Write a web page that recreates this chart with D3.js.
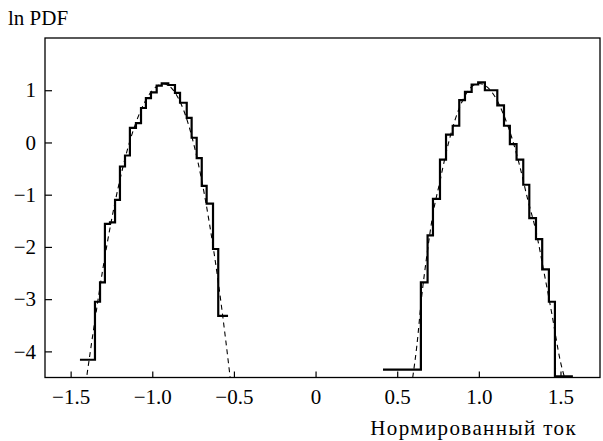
<!DOCTYPE html>
<html>
<head>
<meta charset="utf-8">
<script src="https://cdn.jsdelivr.net/npm/d3@7"></script>
<style>
  body { margin: 0; background: #fff; }
  svg text { font-family: "Liberation Serif", "Times New Roman", "DejaVu Serif", serif; fill: #000; }
</style>
</head>
<body>
<svg id="chart" width="603" height="441"></svg>
<script>
// ---- data ----
const xTicks = [-1.5, -1.0, -0.5, 0, 0.5, 1.0, 1.5];
const xTickLabels = ["\u22121.5", "\u22121.0", "\u22120.5", "0", "0.5", "1.0", "1.5"];
const yTicks = [1, 0, -1, -2, -3, -4];
const yTickLabels = ["1", "0", "\u22121", "\u22122", "\u22123", "\u22124"];

// left peak histogram: bin edges and ln PDF levels
const leftEdges = [-1.443, -1.351, -1.320, -1.290, -1.259, -1.228, -1.198, -1.167, -1.137, -1.100,
  -1.069, -1.039, -1.008, -0.973, -0.942, -0.902, -0.861, -0.830, -0.789, -0.759,
  -0.728, -0.697, -0.667, -0.628, -0.596, -0.536];
const leftLevels = [-4.16, -3.05, -2.68, -1.56, -1.53, -1.10, -0.46, -0.25, 0.28, 0.37,
  0.66, 0.85, 0.96, 1.09, 1.13, 1.10, 0.95, 0.76, 0.47, 0.09,
  -0.30, -0.83, -1.17, -2.04, -3.32];

// right peak histogram
const rightEdges = [0.413, 0.645, 0.686, 0.719, 0.762, 0.799, 0.840, 0.880, 0.915, 0.956,
  0.996, 1.037, 1.113, 1.154, 1.190, 1.231, 1.272, 1.309, 1.350, 1.388,
  1.429, 1.466, 1.576];
const rightLevels = [-4.35, -2.68, -1.78, -1.08, -0.33, 0.15, 0.32, 0.81, 0.97, 1.11,
  1.15, 1.00, 0.71, 0.32, -0.03, -0.33, -0.81, -1.45, -1.85, -2.43,
  -3.05, -4.48];

// dashed fits
const leftFitX = [-1.40, -1.35, -1.30, -1.25, -1.20, -1.15, -1.10, -1.05, -1.00, -0.95,
  -0.93, -0.90, -0.85, -0.80, -0.75, -0.70, -0.65, -0.60, -0.55, -0.523];
const leftFitY = [-4.45, -3.38, -2.37, -1.49, -0.74, -0.11, 0.38, 0.75, 0.995, 1.11,
  1.12, 1.09, 0.90, 0.55, 0.02, -0.68, -1.55, -2.58, -3.79, -4.5];
const rightFitX = [0.595, 0.62, 0.65, 0.68, 0.72, 0.76, 0.80, 0.85, 0.90, 0.95,
  1.00, 1.05, 1.10, 1.15, 1.20, 1.25, 1.30, 1.35, 1.40, 1.45, 1.50, 1.525];
const rightFitY = [-4.5, -3.9, -2.95, -2.2, -1.35, -0.77, -0.19, 0.39, 0.80, 1.05,
  1.13, 1.065, 0.87, 0.545, 0.11, -0.445, -1.10, -1.70, -2.50, -3.33, -4.2, -4.5];

// ---- layout ----
const plot = { left: 45, right: 600, top: 38, bottom: 377.5 };
const fontSize = 21;
const svg = d3.select("#chart");

const x = d3.scaleLinear().domain([-1.657, 1.742]).range([plot.left, plot.right]);
const y = d3.scaleLinear().domain([-4.5, 2]).range([plot.bottom, plot.top]);

// clip so curves stop at the frame
svg.append("defs").append("clipPath").attr("id", "clip")
  .append("rect")
  .attr("x", plot.left).attr("y", plot.top)
  .attr("width", plot.right - plot.left).attr("height", plot.bottom - plot.top);

// axes (ticks point inward)
const xAxis = d3.axisBottom(x)
  .tickValues(xTicks)
  .tickFormat((d, i) => xTickLabels[i])
  .tickSizeInner(-6).tickSizeOuter(0).tickPadding(12);
const yAxis = d3.axisLeft(y)
  .tickValues(yTicks)
  .tickFormat((d, i) => yTickLabels[i])
  .tickSizeInner(-7).tickSizeOuter(0).tickPadding(9);

const gx = svg.append("g").attr("transform", `translate(0,${plot.bottom})`).call(xAxis);
const gy = svg.append("g").attr("transform", `translate(${plot.left},0)`).call(yAxis);
[gx, gy].forEach(g => {
  g.attr("font-family", null).attr("font-size", null);
  g.select(".domain").remove();
  g.selectAll(".tick line").attr("stroke", "#000").attr("stroke-width", 1.2);
  g.selectAll(".tick text").style("font-size", fontSize + "px");
});

// frame
svg.append("rect")
  .attr("x", plot.left).attr("y", plot.top)
  .attr("width", plot.right - plot.left).attr("height", plot.bottom - plot.top)
  .attr("fill", "none").attr("stroke", "#000").attr("stroke-width", 1.3);

// histograms as step lines
const stepPts = (edges, levels) => {
  const pts = levels.map((v, i) => [edges[i], v]);
  pts.push([edges[edges.length - 1], levels[levels.length - 1]]);
  return pts;
};
const stepLine = d3.line().x(d => x(d[0])).y(d => y(d[1])).curve(d3.curveStepAfter);
const marks = svg.append("g").attr("clip-path", "url(#clip)");

[[leftEdges, leftLevels], [rightEdges, rightLevels]].forEach(([e, l]) => {
  marks.append("path")
    .attr("d", stepLine(stepPts(e, l)))
    .attr("fill", "none").attr("stroke", "#000")
    .attr("stroke-width", 2.2).attr("stroke-linejoin", "miter");
});

// dashed fits
const fitLine = d3.line().x(d => x(d[0])).y(d => y(d[1])).curve(d3.curveMonotoneX);
[[leftFitX, leftFitY], [rightFitX, rightFitY]].forEach(([fx, fy]) => {
  marks.append("path")
    .attr("d", fitLine(fx.map((v, i) => [v, fy[i]])))
    .attr("fill", "none").attr("stroke", "#000")
    .attr("stroke-width", 1.1).attr("stroke-dasharray", "5,4");
});

// axis titles
svg.append("text").attr("x", 8).attr("y", 25)
  .style("font-size", fontSize + "px").text("ln PDF");
svg.append("text").attr("x", 577).attr("y", 435)
  .attr("text-anchor", "end").style("font-size", fontSize + "px")
  .style("letter-spacing", "1.4px").text("Нормированный ток");
</script>
</body>
</html>
